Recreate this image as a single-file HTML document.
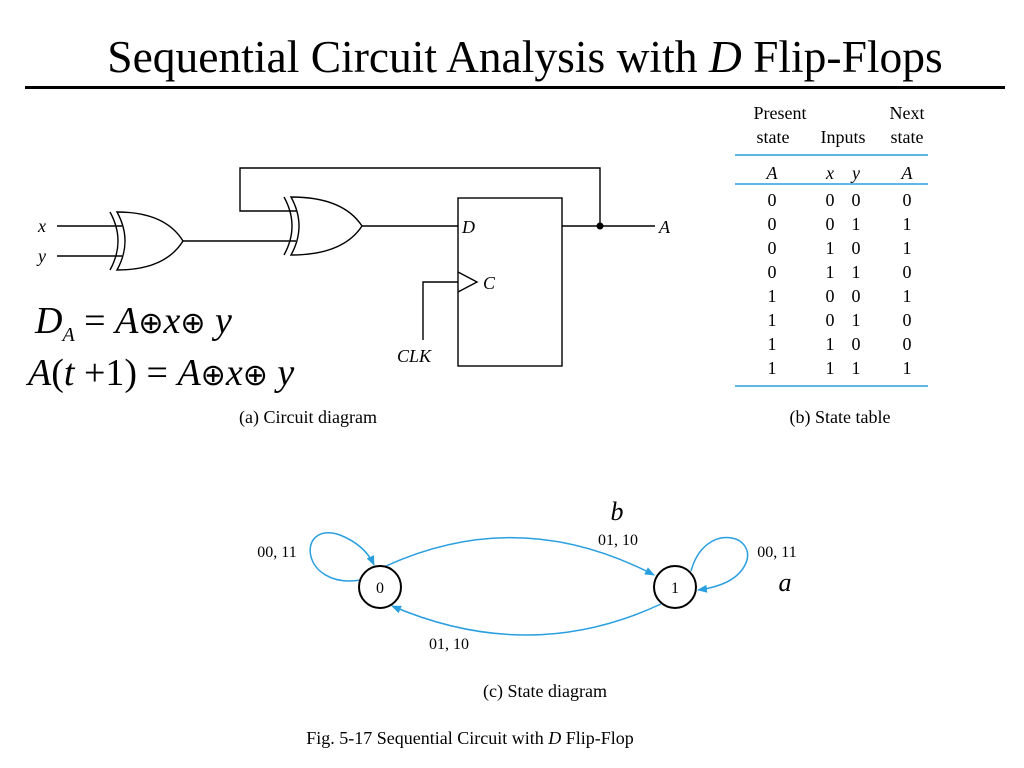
<!DOCTYPE html>
<html><head><meta charset="utf-8"><style>
html,body{margin:0;padding:0;background:#fff;}
svg{display:block;font-family:"Liberation Serif",serif;}
</style></head><body>
<svg width="1024" height="768" viewBox="0 0 1024 768" xmlns="http://www.w3.org/2000/svg">
<defs><marker id="ar" markerWidth="10" markerHeight="8" refX="9" refY="4" orient="auto" markerUnits="userSpaceOnUse"><path d="M0,0 L10,4 L0,8 z" fill="#2a9fe0"/></marker></defs>
<text x="525" y="72" font-size="45.5" text-anchor="middle">Sequential Circuit Analysis with <tspan font-style="italic">D</tspan> Flip-Flops</text>
<rect x="25" y="86" width="980" height="3" fill="#000"/>
<g stroke="#000" stroke-width="1.4" fill="none">
<line x1="57" y1="226" x2="122" y2="226"/><line x1="57" y1="256" x2="122" y2="256"/>
<path d="M110,212 Q126,241 110,270"/>
<path d="M117,212 Q133,241 117,270 Q165,270 183,241 Q165,212 117,212 Z"/>
<line x1="183" y1="241" x2="296" y2="241"/>
<path d="M284,197 Q300,226 284,255"/>
<path d="M291,197 Q307,226 291,255 Q343,255 362,226 Q343,197 291,197 Z"/>
<polyline points="600,226 600,168 240,168 240,211 297,211"/>
<line x1="362" y1="226" x2="458" y2="226"/>
<rect x="458" y="198" width="104" height="168"/>
<line x1="562" y1="226" x2="655" y2="226"/>
<polyline points="458,272 477,282 458,292"/>
<polyline points="458,282 423,282 423,340"/>
</g>
<circle cx="600" cy="226" r="3.5" fill="#000"/>
<g font-style="italic" font-size="18">
<text x="38" y="232">x</text><text x="38" y="262">y</text>
<text x="462" y="233">D</text><text x="659" y="233">A</text>
<text x="483" y="289">C</text><text x="397" y="362">CLK</text>
</g>
<text x="35" y="333" font-size="38" font-style="italic">D<tspan font-size="20" dy="8">A</tspan><tspan dy="-8" font-style="normal"> = </tspan>A<tspan font-style="normal" font-family="DejaVu Sans" font-size="30">⊕</tspan>x<tspan font-style="normal" font-family="DejaVu Sans" font-size="30">⊕</tspan> y</text>
<text x="28" y="385" font-size="38" font-style="italic">A<tspan font-style="normal">(</tspan>t<tspan font-style="normal"> +1) = </tspan>A<tspan font-style="normal" font-family="DejaVu Sans" font-size="30">⊕</tspan>x<tspan font-style="normal" font-family="DejaVu Sans" font-size="30">⊕</tspan> y</text>
<text x="308" y="423" font-size="18" text-anchor="middle">(a) Circuit diagram</text>
<g font-size="18" text-anchor="middle">
<text x="780" y="119">Present</text><text x="773" y="143">state</text>
<text x="843" y="143">Inputs</text>
<text x="907" y="119">Next</text><text x="907" y="143">state</text>
<g font-style="italic"><text x="772" y="179">A</text><text x="830" y="179">x</text><text x="856" y="179">y</text><text x="907" y="179">A</text></g>
</g>
<g stroke="#2a9fe0" stroke-width="1.5"><line x1="735" y1="155" x2="928" y2="155"/><line x1="735" y1="184" x2="928" y2="184"/><line x1="735" y1="386" x2="928" y2="386"/></g>
<g font-size="18" text-anchor="middle">
<g><text x="772" y="206">0</text><text x="830" y="206">0</text><text x="856" y="206">0</text><text x="907" y="206">0</text></g>
<g><text x="772" y="230">0</text><text x="830" y="230">0</text><text x="856" y="230">1</text><text x="907" y="230">1</text></g>
<g><text x="772" y="254">0</text><text x="830" y="254">1</text><text x="856" y="254">0</text><text x="907" y="254">1</text></g>
<g><text x="772" y="278">0</text><text x="830" y="278">1</text><text x="856" y="278">1</text><text x="907" y="278">0</text></g>
<g><text x="772" y="302">1</text><text x="830" y="302">0</text><text x="856" y="302">0</text><text x="907" y="302">1</text></g>
<g><text x="772" y="326">1</text><text x="830" y="326">0</text><text x="856" y="326">1</text><text x="907" y="326">0</text></g>
<g><text x="772" y="350">1</text><text x="830" y="350">1</text><text x="856" y="350">0</text><text x="907" y="350">0</text></g>
<g><text x="772" y="374">1</text><text x="830" y="374">1</text><text x="856" y="374">1</text><text x="907" y="374">1</text></g>
<text x="840" y="423">(b) State table</text>
</g>
<g stroke="#2a9fe0" stroke-width="1.5" fill="none">
<path d="M386,566 Q520,505 654,575" marker-end="url(#ar)"/>
<path d="M661,604 Q530,665 392,606" marker-end="url(#ar)"/>
<path d="M361,580 C300,590 295,520 340,535 Q365,545 374,565" marker-end="url(#ar)"/>
<path d="M691,571 C705,520 760,535 745,565 Q735,585 698,590" marker-end="url(#ar)"/>
</g>
<circle cx="380" cy="587" r="21" fill="#fff" stroke="#000" stroke-width="2"/>
<circle cx="675" cy="587" r="21" fill="#fff" stroke="#000" stroke-width="2"/>
<g font-size="16" text-anchor="middle">
<text x="380" y="593">0</text><text x="675" y="593">1</text>
<text x="277" y="557">00, 11</text><text x="618" y="545">01, 10</text>
<text x="777" y="557">00, 11</text><text x="449" y="649">01, 10</text>
</g>
<text x="617" y="520" font-size="26" font-style="italic" text-anchor="middle">b</text>
<text x="785" y="591" font-size="26" font-style="italic" text-anchor="middle">a</text>
<text x="545" y="697" font-size="18" text-anchor="middle">(c) State diagram</text>
<text x="470" y="744" font-size="18" text-anchor="middle">Fig. 5-17  Sequential Circuit with <tspan font-style="italic">D</tspan> Flip-Flop</text>
</svg>
</body></html>
